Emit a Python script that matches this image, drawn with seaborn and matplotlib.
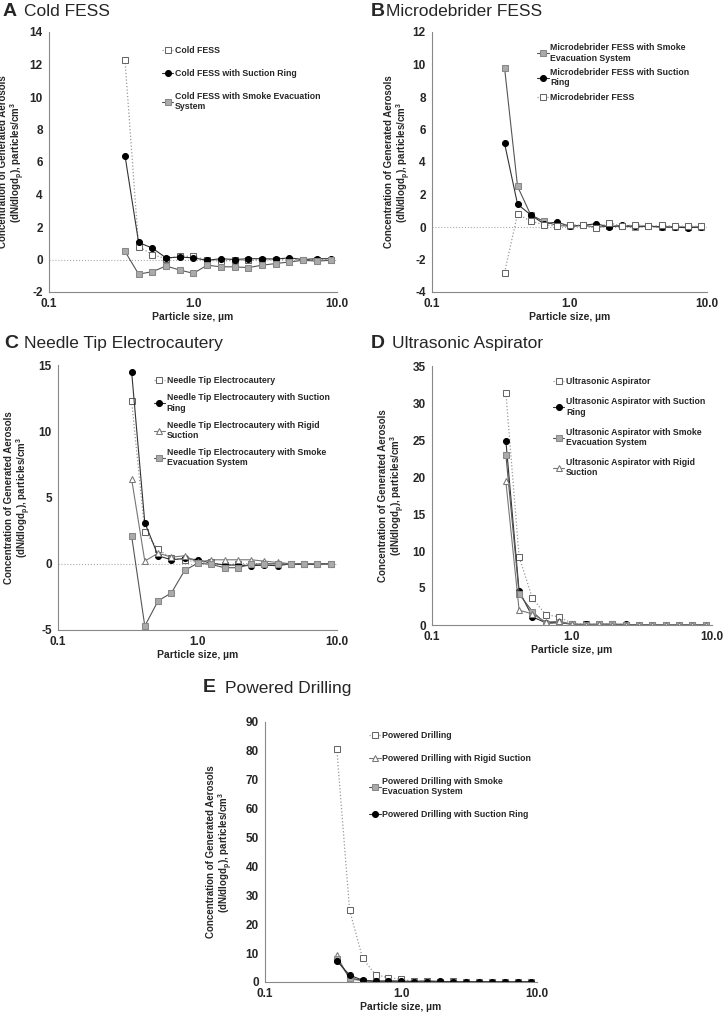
import numpy as np
import pandas as pd
import seaborn as sns
import matplotlib.pyplot as plt
from matplotlib.ticker import MultipleLocator, LogLocator, FixedLocator, FixedFormatter

# particle size bin midpoints (um)
sizes = [0.337, 0.419, 0.522, 0.650, 0.809, 1.007, 1.254, 1.562,
         1.944, 2.421, 3.014, 3.752, 4.672, 5.816, 7.241, 9.016]

# A Cold FESS
a_open = [12.3, 0.8, 0.3, 0.05, 0.2, 0.2, -0.05, -0.1, -0.05, -0.05, 0.0, 0.0, 0.0, 0.0, 0.0, 0.0]
a_ring = [6.4, 1.05, 0.7, 0.1, 0.15, 0.1, -0.05, 0.05, 0.0, 0.05, 0.05, 0.03, 0.1, 0.0, 0.05, 0.05]
a_smoke = [0.5, -0.9, -0.75, -0.4, -0.65, -0.85, -0.35, -0.45, -0.45, -0.5, -0.35, -0.25, -0.15, -0.05, -0.1, -0.05]

# B Microdebrider FESS
b_smoke = [9.8, 2.5, 0.75, 0.35, 0.1, 0.05, 0.1, 0.0, 0.05, 0.05, 0.0, 0.05, 0.0, 0.0, 0.0, 0.0]
b_ring = [5.15, 1.4, 0.75, 0.2, 0.3, 0.05, 0.1, 0.2, 0.0, 0.1, 0.05, 0.05, 0.0, 0.0, -0.05, 0.0]
b_open = [-2.8, 0.8, 0.35, 0.15, 0.05, 0.15, 0.1, -0.05, 0.25, 0.05, 0.15, 0.05, 0.1, 0.05, 0.05, 0.05]

# C Needle Tip Electrocautery
c_open = [12.3, 2.4, 1.1, 0.4, 0.3, 0.1, 0.1, -0.1, 0.0, 0.0, 0.0, 0.0, -0.05, 0.0, 0.0, 0.0]
c_ring = [14.5, 3.1, 0.6, 0.3, 0.4, 0.3, 0.05, -0.1, -0.1, -0.15, -0.1, -0.15, 0.0, 0.0, 0.0, 0.0]
c_rigid = [6.4, 0.2, 0.8, 0.5, 0.6, 0.1, 0.3, 0.3, 0.3, 0.3, 0.2, 0.1, 0.0, 0.0, 0.0, 0.0]
c_smoke = [2.1, -4.7, -2.8, -2.2, -0.5, 0.05, -0.05, -0.3, -0.3, -0.05, 0.0, 0.0, -0.05, -0.05, -0.05, 0.0]

# D Ultrasonic Aspirator
d_open = [31.4, 9.2, 3.6, 1.4, 1.1, 0.2, 0.1, 0.1, 0.1, 0.05, 0.0, 0.0, 0.0, 0.0, 0.0, 0.0]
d_ring = [24.9, 4.6, 1.1, 0.3, 0.4, 0.1, 0.1, 0.1, 0.1, 0.1, 0.0, 0.0, 0.0, 0.0, 0.0, 0.0]
d_smoke = [23.0, 4.2, 1.8, 0.2, 0.3, 0.1, 0.0, 0.1, 0.1, 0.0, 0.05, 0.0, 0.0, 0.0, 0.0, 0.0]
d_rigid = [19.4, 2.0, 1.5, 0.4, 0.5, 0.1, 0.0, 0.1, 0.0, 0.0, 0.0, 0.0, 0.0, 0.0, 0.0, 0.0]

# E Powered Drilling
e_open = [80.8, 24.9, 8.2, 2.5, 1.5, 0.9, 0.3, 0.5, 0.1, 0.2, 0.0, 0.0, 0.0, 0.0, 0.0, 0.0]
e_rigid = [9.2, 1.0, 0.5, 0.2, 0.3, 0.2, 0.3, 0.5, 0.2, 0.1, 0.1, 0.1, 0.0, 0.0, 0.0, 0.0]
e_smoke = [8.0, 1.5, 0.5, 0.1, 0.2, 0.1, 0.1, 0.1, 0.1, 0.1, 0.1, 0.1, 0.1, 0.1, 0.1, 0.1]
e_ring = [7.3, 2.4, 0.6, 0.3, 0.4, 0.3, 0.1, 0.1, 0.2, 0.1, 0.0, 0.1, 0.0, 0.0, 0.0, 0.1]

sns.set_style("white")
plt.rcParams['font.family'] = ['Liberation Sans', 'DejaVu Sans']
plt.rcParams['axes.unicode_minus'] = False
plt.rcParams['mathtext.fontset'] = 'custom'
plt.rcParams['mathtext.rm'] = 'Liberation Sans:bold'
plt.rcParams['mathtext.bf'] = 'Liberation Sans:bold'
plt.rcParams['mathtext.default'] = 'bf'

styles = {
    'open': dict(marker='s', markerfacecolor='white', markeredgecolor='#666666',
                 color='#999999', linestyle=':', linewidth=0.9, markersize=4.5),
    'ring': dict(marker='o', markerfacecolor='black', markeredgecolor='black',
                 color='#333333', linestyle='-', linewidth=0.8, markersize=4.3),
    'smoke': dict(marker='s', markerfacecolor='#aaaaaa', markeredgecolor='#888888',
                  color='#555555', linestyle='-', linewidth=0.8, markersize=4.5),
    'rigid': dict(marker='^', markerfacecolor='white', markeredgecolor='#777777',
                  color='#777777', linestyle='-', linewidth=0.8, markersize=4.5),
}

W, H = 725, 1014
fig = plt.figure(figsize=(W / 100, H / 100), dpi=100)


def make_ax(l, r, t, b):
    return fig.add_axes([l / W, 1 - b / H, (r - l) / W, (b - t) / H])


def draw_panel(ax, series, ylim, major, minor, zero_line, leg_x, leg_y, spacing, ylab_x):
    for key, vals, label in series:
        sns.lineplot(x=sizes, y=vals, ax=ax, label=label, sort=False, **styles[key])
    ax.set_xscale('log')
    ax.set_xlim(0.1, 10)
    ax.set_ylim(*ylim)
    ax.xaxis.set_major_locator(FixedLocator([0.1, 1.0, 10.0]))
    ax.xaxis.set_major_formatter(FixedFormatter(['0.1', '1.0', '10.0']))
    ax.xaxis.set_minor_locator(LogLocator(base=10, subs=[2, 4, 6, 8]))
    ax.yaxis.set_major_locator(MultipleLocator(major))
    ax.yaxis.set_minor_locator(MultipleLocator(minor))
    ax.tick_params(axis='both', which='major', direction='inout', length=5, width=0.7,
                   color='#888888', labelsize=8.5, pad=2)
    ax.tick_params(axis='both', which='minor', direction='in', length=3, width=0.6,
                   color='#aaaaaa')
    for lab in ax.get_xticklabels() + ax.get_yticklabels():
        lab.set_fontweight('bold')
    sns.despine(ax=ax)
    for s in ['left', 'bottom']:
        ax.spines[s].set_color('#888888')
        ax.spines[s].set_linewidth(0.8)
    if zero_line:
        ax.axhline(0, color='#aaaaaa', linestyle=':', linewidth=0.8, zorder=0)
    ax.set_xlabel('Particle size, µm', fontsize=7.5, fontweight='bold', labelpad=1)
    ax.set_ylabel('Concentration of Generated Aerosols\n(dN/dlogd$_p$), particles/cm$^3$',
                  fontsize=7, fontweight='bold', linespacing=1.05)
    ax.yaxis.set_label_coords(ylab_x, 0.5)
    ax.legend(loc='upper left', bbox_to_anchor=(leg_x, leg_y), frameon=False,
              prop={'size': 6.3, 'weight': 'bold'}, handlelength=1.3, handletextpad=0.2,
              labelspacing=spacing, borderaxespad=0)


def title(x, y, letter, text, off=0.029):
    fig.text(x, y, letter, fontsize=14, fontweight='bold', va='center')
    fig.text(x + off, y, text, fontsize=12.5, va='center')


# A
ax = make_ax(49, 337, 32, 292)
draw_panel(ax, [('open', a_open, 'Cold FESS'),
                ('ring', a_ring, 'Cold FESS with Suction Ring'),
                ('smoke', a_smoke, 'Cold FESS with Smoke Evacuation\nSystem')],
           (-2, 14), 2, 0.5, True, 0.38, 0.96, 1.6, -0.076)
title(0.004, 1 - 11 / H, 'A', 'Cold FESS')

# B
ax = make_ax(432, 707, 32, 292)
draw_panel(ax, [('smoke', b_smoke, 'Microdebrider FESS with Smoke\nEvacuation System'),
                ('ring', b_ring, 'Microdebrider FESS with Suction\nRing'),
                ('open', b_open, 'Microdebrider FESS')],
           (-4, 12), 2, 0.5, True, 0.37, 0.97, 0.6, -0.069)
title(0.511, 1 - 11 / H, 'B', 'Microdebrider FESS', 0.022)

# C
ax = make_ax(58, 337, 365, 630)
draw_panel(ax, [('open', c_open, 'Needle Tip Electrocautery'),
                ('ring', c_ring, 'Needle Tip Electrocautery with Suction\nRing'),
                ('rigid', c_rigid, 'Needle Tip Electrocautery with Rigid\nSuction'),
                ('smoke', c_smoke, 'Needle Tip Electrocautery with Smoke\nEvacuation System')],
           (-5, 15), 5, 1, True, 0.33, 0.97, 0.9, -0.09)
title(0.006, 1 - 343 / H, 'C', 'Needle Tip Electrocautery', 0.027)

# D
ax = make_ax(432, 712, 366, 625)
draw_panel(ax, [('open', d_open, 'Ultrasonic Aspirator'),
                ('ring', d_ring, 'Ultrasonic Aspirator with Suction\nRing'),
                ('smoke', d_smoke, 'Ultrasonic Aspirator with Smoke\nEvacuation System'),
                ('rigid', d_rigid, 'Ultrasonic Aspirator with Rigid\nSuction')],
           (0, 35), 5, 1, False, 0.42, 0.97, 1.25, -0.09)
title(0.511, 1 - 343 / H, 'D', 'Ultrasonic Aspirator')

# E
ax = make_ax(265, 537, 722, 982)
draw_panel(ax, [('open', e_open, 'Powered Drilling'),
                ('rigid', e_rigid, 'Powered Drilling with Rigid Suction'),
                ('smoke', e_smoke, 'Powered Drilling with Smoke\nEvacuation System'),
                ('ring', e_ring, 'Powered Drilling with Suction Ring')],
           (0, 90), 10, 2, False, 0.37, 0.98, 1.6, -0.11)
title(0.28, 1 - 688 / H, 'E', 'Powered Drilling', 0.03)

fig.savefig('out.png', dpi=100)
